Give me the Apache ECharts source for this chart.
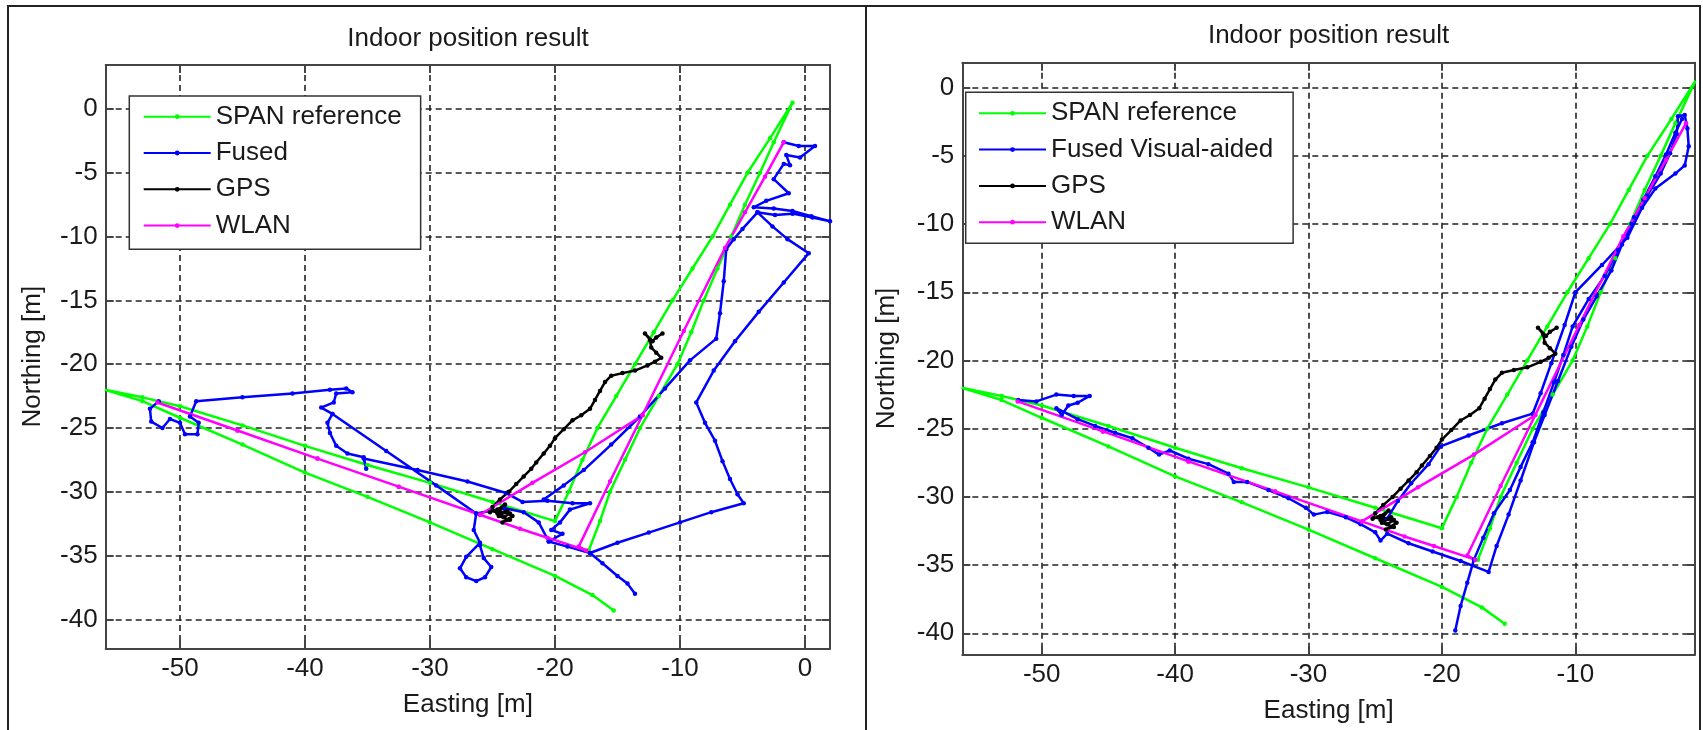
<!DOCTYPE html>
<html>
<head>
<meta charset="utf-8">
<title>Indoor position result</title>
<script src="https://cdn.jsdelivr.net/npm/echarts@6/dist/echarts.min.js"></script>
<style>
  html, body { margin: 0; padding: 0; background: #fff; }
  #main { width: 1703px; height: 730px; }
</style>
</head>
<body>
<div id="main"></div>
<script>
// tick labels
const xTicksLeft = [-50, -40, -30, -20, -10, 0];
const xTicksRight = [-50, -40, -30, -20, -10];
const yTicks = [-40, -35, -30, -25, -20, -15, -10, -5, 0];

// SPAN reference (same track in both plots)
const spanRef = [
  [-17.3, -34.6], [-16.4, -32.3], [-15.6, -30.0], [-14.4, -27.5], [-13.2, -25.0], [-11.7, -22.5],
  [-10.2, -20.0], [-9.1, -17.5], [-8.1, -15.0], [-7.0, -12.5], [-5.9, -10.0], [-4.8, -7.5],
  [-3.6, -5.0], [-2.5, -2.6], [-1.0, 0.5], [-2.8, -2.3], [-4.6, -5.0], [-6.0, -7.5],
  [-7.4, -10.0], [-9.0, -12.5], [-10.6, -15.0], [-12.1, -17.5], [-13.6, -20.0], [-15.1, -22.5],
  [-16.6, -25.0], [-17.8, -27.5], [-18.9, -30.0], [-20.0, -32.3], [-25.0, -30.8], [-30.0, -29.3],
  [-35.0, -27.9], [-40.0, -26.4], [-45.0, -24.8], [-50.0, -23.3], [-53.0, -22.6], [-56.0, -22.0],
  [-53.0, -22.9], [-50.0, -24.2], [-45.0, -26.3], [-40.0, -28.5], [-35.0, -30.4], [-30.0, -32.4],
  [-25.0, -34.5], [-20.0, -36.6], [-17.0, -38.1], [-15.3, -39.3]
];

// GPS (same track in both plots)
const gpsTrack = [
  [-11.4, -17.6], [-11.9, -17.9], [-12.2, -18.2], [-12.8, -17.6], [-12.4, -18.1], [-12.3, -18.7],
  [-11.9, -19.1], [-11.5, -19.5], [-12.0, -19.8], [-12.6, -20.1], [-13.6, -20.5], [-14.6, -20.7],
  [-15.5, -20.9], [-16.0, -21.4], [-16.4, -22.1], [-16.8, -22.8], [-17.2, -23.5], [-17.9, -24.0],
  [-18.6, -24.4], [-19.3, -25.1], [-20.0, -25.8], [-20.4, -26.4], [-20.9, -27.0], [-21.5, -27.7],
  [-21.9, -28.2], [-22.5, -28.8], [-23.1, -29.4], [-23.7, -30.0], [-24.4, -30.6], [-25.0, -31.2],
  [-25.2, -31.6], [-24.6, -31.4], [-24.0, -31.0], [-24.6, -31.7], [-23.8, -31.5], [-24.5, -31.9],
  [-23.6, -32.2], [-24.2, -32.4], [-23.4, -31.9], [-24.0, -31.6], [-24.8, -31.5], [-24.1, -32.0],
  [-23.6, -31.7]
];

// WLAN (same track in both plots)
const wlanTrack = [
  [-1.7, -2.6], [-3.2, -5.3], [-4.8, -8.1], [-6.4, -10.9], [-9.7, -17.4], [-13.0, -24.0],
  [-17.6, -26.9], [-21.8, -29.3], [-26.0, -31.8], [-32.5, -29.6], [-39.0, -27.4], [-45.4, -25.2],
  [-51.8, -23.0], [-45.4, -25.2], [-39.0, -27.4], [-32.5, -29.6], [-26.0, -31.8], [-22.8, -32.9],
  [-20.6, -33.6], [-17.5, -34.6], [-18.1, -34.3], [-15.6, -29.2], [-13.0, -24.0]
];

// Fused (left plot), read as separate pieces
const fusedSegments = [
  [
    [-1.7, -2.6], [-0.5, -2.9], [0.8, -2.9], [-0.4, -3.8], [-1.5, -3.6], [-1.2, -4.4], [-1.7, -4.3],
    [-2.5, -5.5], [-1.3, -6.6], [-3.1, -7.2], [-4.1, -7.7], [-2.5, -7.8], [-1.0, -8.0], [0.5, -8.4],
    [2.0, -8.8], [0.6, -8.5], [-1.0, -8.2], [-2.4, -8.3], [-3.8, -8.1], [-2.6, -9.2], [-1.4, -10.2],
    [0.3, -11.3], [-1.7, -13.6], [-3.7, -15.9], [-5.6, -18.2], [-7.3, -20.5], [-8.7, -23.0],
    [-8.0, -24.6], [-7.2, -26.0], [-6.6, -27.6], [-6.0, -29.0], [-5.4, -30.2], [-4.9, -30.9],
    [-7.5, -31.6], [-10.0, -32.4], [-12.5, -33.2], [-15.0, -34.0], [-17.2, -34.8], [-16.2, -35.6],
    [-15.0, -36.6], [-14.2, -37.2], [-13.6, -38.0]
  ],
  [
    [-3.8, -8.1], [-5.0, -9.4], [-5.7, -10.2], [-6.3, -11.0], [-6.5, -13.5], [-6.8, -16.0],
    [-7.1, -18.0], [-9.2, -19.7], [-11.2, -21.9], [-13.2, -24.1], [-15.5, -26.3], [-17.7, -28.3],
    [-19.3, -29.5], [-20.9, -30.6]
  ],
  [
    [-51.7, -22.9], [-52.4, -23.5], [-52.3, -24.5], [-51.4, -25.0], [-50.8, -24.3], [-50.0, -24.6],
    [-49.6, -25.5], [-48.6, -25.5], [-48.5, -24.6], [-49.2, -24.1], [-48.7, -22.9], [-45.0, -22.6],
    [-41.0, -22.3], [-38.0, -22.0], [-36.7, -21.9], [-36.2, -22.2], [-37.5, -22.3], [-37.7, -23.0],
    [-38.7, -23.4], [-37.8, -23.9], [-38.2, -24.6], [-38.0, -25.4], [-37.5, -26.4], [-36.6, -27.0],
    [-35.3, -27.3], [-35.1, -28.2], [-35.3, -27.4], [-31.0, -28.3], [-27.0, -29.2], [-23.9, -30.1],
    [-22.6, -30.8], [-20.6, -30.7], [-18.6, -30.9], [-17.2, -30.9], [-18.8, -31.4], [-19.6, -32.4],
    [-20.3, -33.0], [-19.4, -33.3], [-20.5, -33.9], [-21.3, -32.4], [-22.5, -31.6], [-24.0, -31.3],
    [-26.3, -31.7], [-29.5, -29.5], [-33.5, -26.8], [-37.8, -23.9]
  ],
  [
    [-26.3, -31.7], [-26.5, -33.0], [-26.0, -34.0], [-27.1, -35.1], [-27.6, -36.0], [-27.1, -36.7],
    [-26.3, -37.0], [-25.6, -36.7], [-25.1, -35.9], [-25.7, -35.2], [-26.0, -34.2]
  ],
  [
    [-20.5, -33.9], [-19.0, -34.3], [-17.2, -34.8]
  ]
];

// Fused Visual-aided (right plot)
const visualSegments = [
  [
    [-51.75, -22.9], [-50.4, -23.0], [-48.9, -22.5], [-47.6, -22.6], [-46.4, -22.6], [-47.3, -23.1],
    [-48.0, -23.3], [-48.5, -24.0], [-48.9, -23.5], [-47.3, -24.3], [-46.0, -24.8], [-44.5, -25.3],
    [-43.2, -25.7], [-42.0, -26.4], [-41.2, -26.9], [-40.4, -26.6], [-39.0, -27.2], [-37.5, -27.6],
    [-36.0, -28.3], [-35.6, -28.9], [-34.6, -28.9], [-33.0, -29.5], [-31.5, -30.1], [-30.2, -30.8],
    [-29.6, -31.3], [-28.6, -31.1], [-27.2, -31.5], [-26.1, -32.0], [-25.0, -32.6], [-24.6, -33.2],
    [-24.1, -32.7], [-22.5, -33.4], [-20.7, -34.0], [-18.6, -34.7], [-16.5, -35.5], [-15.9, -33.6],
    [-15.0, -31.3], [-14.1, -28.8], [-13.1, -26.0], [-12.3, -24.0], [-11.3, -21.5], [-10.3, -19.0],
    [-9.4, -17.0], [-8.4, -15.3], [-7.3, -13.4], [-6.5, -11.5], [-5.6, -9.5], [-4.6, -7.9],
    [-3.6, -6.3], [-2.9, -4.8], [-2.4, -3.4], [-2.3, -2.1], [-1.8, -2.0], [-1.6, -3.0],
    [-1.5, -4.3], [-1.8, -5.7], [-2.5, -6.3], [-4.0, -7.4], [-5.0, -8.8], [-6.1, -11.0],
    [-8.0, -13.0], [-10.0, -15.0], [-10.8, -17.4], [-11.8, -20.2], [-12.6, -22.4], [-13.2, -23.9],
    [-15.5, -24.6], [-18.0, -25.5], [-20.1, -26.3], [-21.0, -27.6], [-22.3, -29.0], [-23.3, -30.3],
    [-24.1, -31.6]
  ],
  [
    [-19.0, -39.8], [-18.6, -38.0], [-18.1, -36.3], [-17.6, -34.6], [-16.9, -33.0], [-16.1, -31.2],
    [-14.9, -29.5], [-14.1, -27.8], [-13.2, -26.0], [-12.4, -23.8], [-11.6, -21.6], [-10.9, -19.6],
    [-10.2, -17.5], [-9.0, -15.5], [-7.8, -13.8], [-6.8, -11.9], [-5.8, -10.0], [-4.9, -8.2],
    [-4.0, -6.5], [-3.2, -4.9], [-2.5, -3.3], [-2.0, -2.3]
  ]
];

const FONT = 'Liberation Sans, Arial, Helvetica, sans-serif';
const TXT = '#1a1a1a';
const FS = 26;

const chartInstance = echarts.init(document.getElementById('main'), null, { renderer: 'canvas' });

// one line series, gi = 0 left plot, 1 right plot
function lineSeries(name, data, color, gi) {
  return {
    name: name,
    type: 'line',
    xAxisIndex: gi * 2,
    yAxisIndex: gi * 2,
    data: data,
    symbol: 'circle',
    symbolSize: 4.5,
    showSymbol: true,
    clip: true,
    lineStyle: { color: color, width: 2.5 },
    itemStyle: { color: color },
    emphasis: { disabled: true },
    animation: false
  };
}

// bottom/left axes carry labels and grid, top/right axes only box and ticks
function xAxes(gi, min, max, ticks) {
  const common = {
    gridIndex: gi, type: 'value', min: min, max: max,
    axisLine: { show: true, onZero: false, lineStyle: { color: '#444', width: 2 } },
    axisTick: { show: true, inside: true, length: 8, customValues: ticks, lineStyle: { color: '#444', width: 2 } }
  };
  return [
    Object.assign({}, common, {
      position: 'bottom',
      axisLabel: { show: true, customValues: ticks, margin: 8, fontSize: FS, color: TXT, fontFamily: FONT },
      splitLine: { show: true, lineStyle: { type: [6, 4], color: '#222', width: 1.6 } },
      name: 'Easting [m]', nameLocation: 'middle', nameGap: 44,
      nameTextStyle: { fontSize: FS, color: TXT, fontFamily: FONT }
    }),
    Object.assign({}, common, {
      position: 'top',
      axisLabel: { show: false },
      splitLine: { show: false }
    })
  ];
}

function yAxes(gi, min, max, ticks, gap) {
  const common = {
    gridIndex: gi, type: 'value', min: min, max: max,
    axisLine: { show: true, onZero: false, lineStyle: { color: '#444', width: 2 } },
    axisTick: { show: true, inside: true, length: 8, customValues: ticks, lineStyle: { color: '#444', width: 2 } }
  };
  return [
    Object.assign({}, common, {
      position: 'left',
      axisLabel: { show: true, customValues: ticks, margin: 8, fontSize: FS, color: TXT, fontFamily: FONT },
      splitLine: { show: true, lineStyle: { type: [6, 4], color: '#222', width: 1.6 } },
      name: 'Northing [m]', nameLocation: 'middle', nameGap: gap, nameRotate: 90,
      nameTextStyle: { fontSize: FS, color: TXT, fontFamily: FONT }
    }),
    Object.assign({}, common, {
      position: 'right',
      axisLabel: { show: false },
      splitLine: { show: false }
    })
  ];
}

function legendBox(names, left, top, padding) {
  return {
    data: names,
    orient: 'vertical',
    left: left,
    top: top,
    padding: padding,
    itemGap: 10.3,
    itemWidth: 67,
    itemHeight: 6,
    backgroundColor: '#fff',
    borderColor: '#333',
    borderWidth: 1.5,
    borderRadius: 0,
    selectedMode: false,
    textStyle: { fontSize: FS, color: TXT, fontFamily: FONT },
    z: 10
  };
}

const series = [];
// left plot
series.push(lineSeries('SPAN reference', spanRef, '#00ff00', 0));
fusedSegments.forEach(function (seg) { series.push(lineSeries('Fused', seg, '#0000ff', 0)); });
series.push(lineSeries('GPS', gpsTrack, '#000000', 0));
series.push(lineSeries('WLAN', wlanTrack, '#ff00ff', 0));
// right plot
series.push(lineSeries('SPAN reference', spanRef, '#00ff00', 1));
visualSegments.forEach(function (seg) { series.push(lineSeries('Fused Visual-aided', seg, '#0000ff', 1)); });
series.push(lineSeries('GPS', gpsTrack, '#000000', 1));
series.push(lineSeries('WLAN', wlanTrack, '#ff00ff', 1));

const initOption = {
  backgroundColor: '#fff',
  animation: false,
  textStyle: { fontFamily: FONT },
  title: [
    { text: 'Indoor position result', left: 468, top: 25.5, textAlign: 'center', padding: 0,
      textStyle: { fontSize: FS, fontWeight: 'normal', color: TXT, fontFamily: FONT } },
    { text: 'Indoor position result', left: 1328.6, top: 22.5, textAlign: 'center', padding: 0,
      textStyle: { fontSize: FS, fontWeight: 'normal', color: TXT, fontFamily: FONT } }
  ],
  grid: [
    { left: 105.7, top: 65, width: 724.3, height: 583.3, containLabel: false },
    { left: 962.3, top: 62.7, width: 732.7, height: 591.6, containLabel: false }
  ],
  xAxis: xAxes(0, -55.94, 2.0, xTicksLeft).concat(xAxes(1, -55.95, -1.03, xTicksRight)),
  yAxis: yAxes(0, -42.27, 3.45, yTicks, 60).concat(yAxes(1, -41.54, 1.83, yTicks, 62)),
  legend: [
    legendBox(['SPAN reference', 'Fused', 'GPS', 'WLAN'], 129.3, 96, [7.7, 19, 10.6, 13.4]),
    legendBox(['SPAN reference', 'Fused Visual-aided', 'GPS', 'WLAN'], 965.7, 92.3, [8, 20, 8, 12.3])
  ],
  tooltip: { show: false },
  series: series,
  graphic: [
    // outer panel frames
    { type: 'rect', silent: true, z: 100,
      shape: { x: 8, y: 6, width: 858, height: 760 },
      style: { fill: 'none', stroke: '#222', lineWidth: 2 } },
    { type: 'rect', silent: true, z: 100,
      shape: { x: 866, y: 6, width: 834, height: 760 },
      style: { fill: 'none', stroke: '#222', lineWidth: 2 } }
  ]
};

chartInstance.setOption(initOption);
</script>
</body>
</html>
